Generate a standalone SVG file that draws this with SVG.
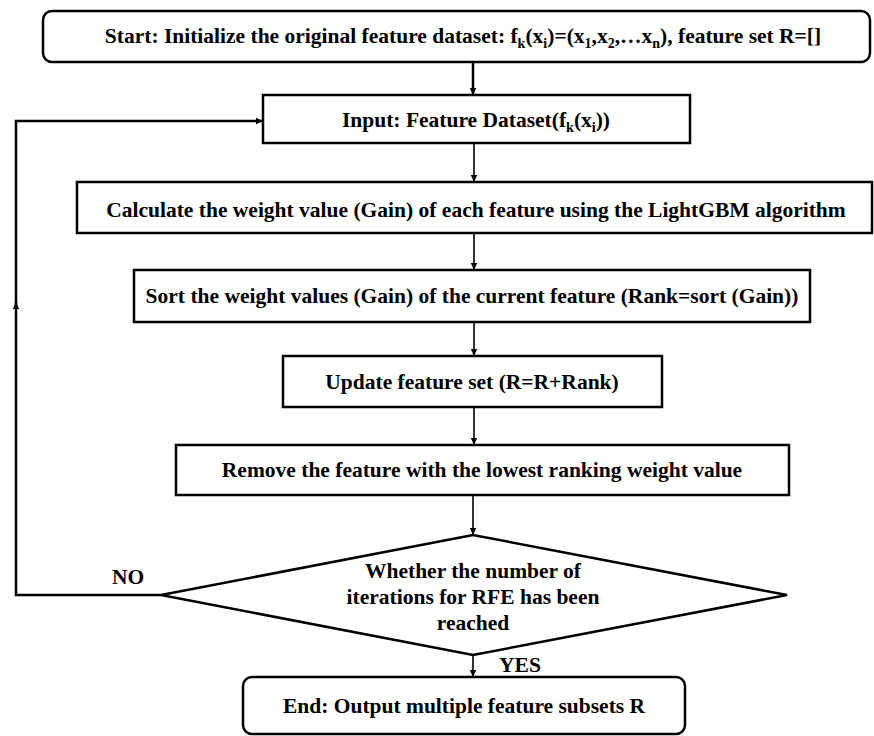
<svg xmlns="http://www.w3.org/2000/svg" width="874" height="736" viewBox="0 0 874 736">
<style>
  .box { fill: #ffffff; stroke: #000000; stroke-width: 2.5; }
  .t { font-family: "Liberation Serif", "Times New Roman", serif; font-weight: bold; font-size: 21.5px; fill: #000000; text-anchor: middle; }
  .sub { font-size: 14px; }
  .c { fill: none; stroke: #000000; stroke-width: 1.6; }
  .thick { stroke-width: 2.5; }
</style>
<defs>
  <marker id="ah" markerWidth="8" markerHeight="8" refX="7" refY="4" orient="auto" markerUnits="userSpaceOnUse">
    <path d="M0,0.8 L7,4 L0,7.2 Z" fill="#000000"/>
  </marker>
</defs>
<g id="connectors">
  <path class="c thick" d="M473,62 L473,95" marker-end="url(#ah)"/>
  <path class="c" d="M474,143 L474,182" marker-end="url(#ah)"/>
  <path class="c" d="M474,233 L474,270" marker-end="url(#ah)"/>
  <path class="c" d="M474,322 L474,356" marker-end="url(#ah)"/>
  <path class="c" d="M474,407 L474,445" marker-end="url(#ah)"/>
  <path class="c" d="M473,495 L473,535" marker-end="url(#ah)"/>
  <path class="c" d="M473,655 L473,677" marker-end="url(#ah)"/>
  <path class="c thick" d="M161,595 L16,595 L16,302" marker-end="url(#ah)"/>
  <path class="c thick" d="M16,304 L16,121 L263,121" marker-end="url(#ah)"/>
  <text class="t" x="128" y="584">NO</text>
  <text class="t" x="520" y="672">YES</text>
</g>
<g id="start">
  <rect class="box" x="43" y="11" width="827" height="51" rx="9"/>
  <text class="t" x="463" y="43">Start: Initialize the original feature dataset: f<tspan class="sub" dy="5">k</tspan><tspan dy="-5">(x</tspan><tspan class="sub" dy="5">i</tspan><tspan dy="-5">)=(x</tspan><tspan class="sub" dy="5">1</tspan><tspan dy="-5">,x</tspan><tspan class="sub" dy="5">2</tspan><tspan dy="-5">,…x</tspan><tspan class="sub" dy="5">n</tspan><tspan dy="-5">), feature set R=[]</tspan></text>
</g>
<g id="input">
  <rect class="box" x="263" y="95" width="427" height="48"/>
  <text class="t" x="476" y="127">Input: Feature Dataset(f<tspan class="sub" dy="5">k</tspan><tspan dy="-5">(x</tspan><tspan class="sub" dy="5">i</tspan><tspan dy="-5">))</tspan></text>
</g>
<g id="calc">
  <rect class="box" x="77" y="182" width="795" height="51"/>
  <text class="t" x="476" y="217">Calculate the weight value (Gain) of each feature using the LightGBM algorithm</text>
</g>
<g id="sort">
  <rect class="box" x="134" y="270" width="676" height="52"/>
  <text class="t" x="472" y="303">Sort the weight values (Gain) of the current feature (Rank=sort (Gain))</text>
</g>
<g id="update">
  <rect class="box" x="283" y="356" width="379" height="51"/>
  <text class="t" x="472" y="389">Update feature set (R=R+Rank)</text>
</g>
<g id="remove">
  <rect class="box" x="176" y="445" width="613" height="50"/>
  <text class="t" x="482" y="477">Remove the feature with the lowest ranking weight value</text>
</g>
<g id="decision">
  <polygon class="box" points="161,595 473,535 787,595 473,655"/>
  <text class="t" x="473" y="578">Whether the number of</text>
  <text class="t" x="473" y="604">iterations for RFE has been</text>
  <text class="t" x="473" y="630">reached</text>
</g>
<g id="end">
  <rect class="box" x="243" y="677" width="442" height="57" rx="9"/>
  <text class="t" x="464" y="713">End: Output multiple feature subsets R</text>
</g>
</svg>
